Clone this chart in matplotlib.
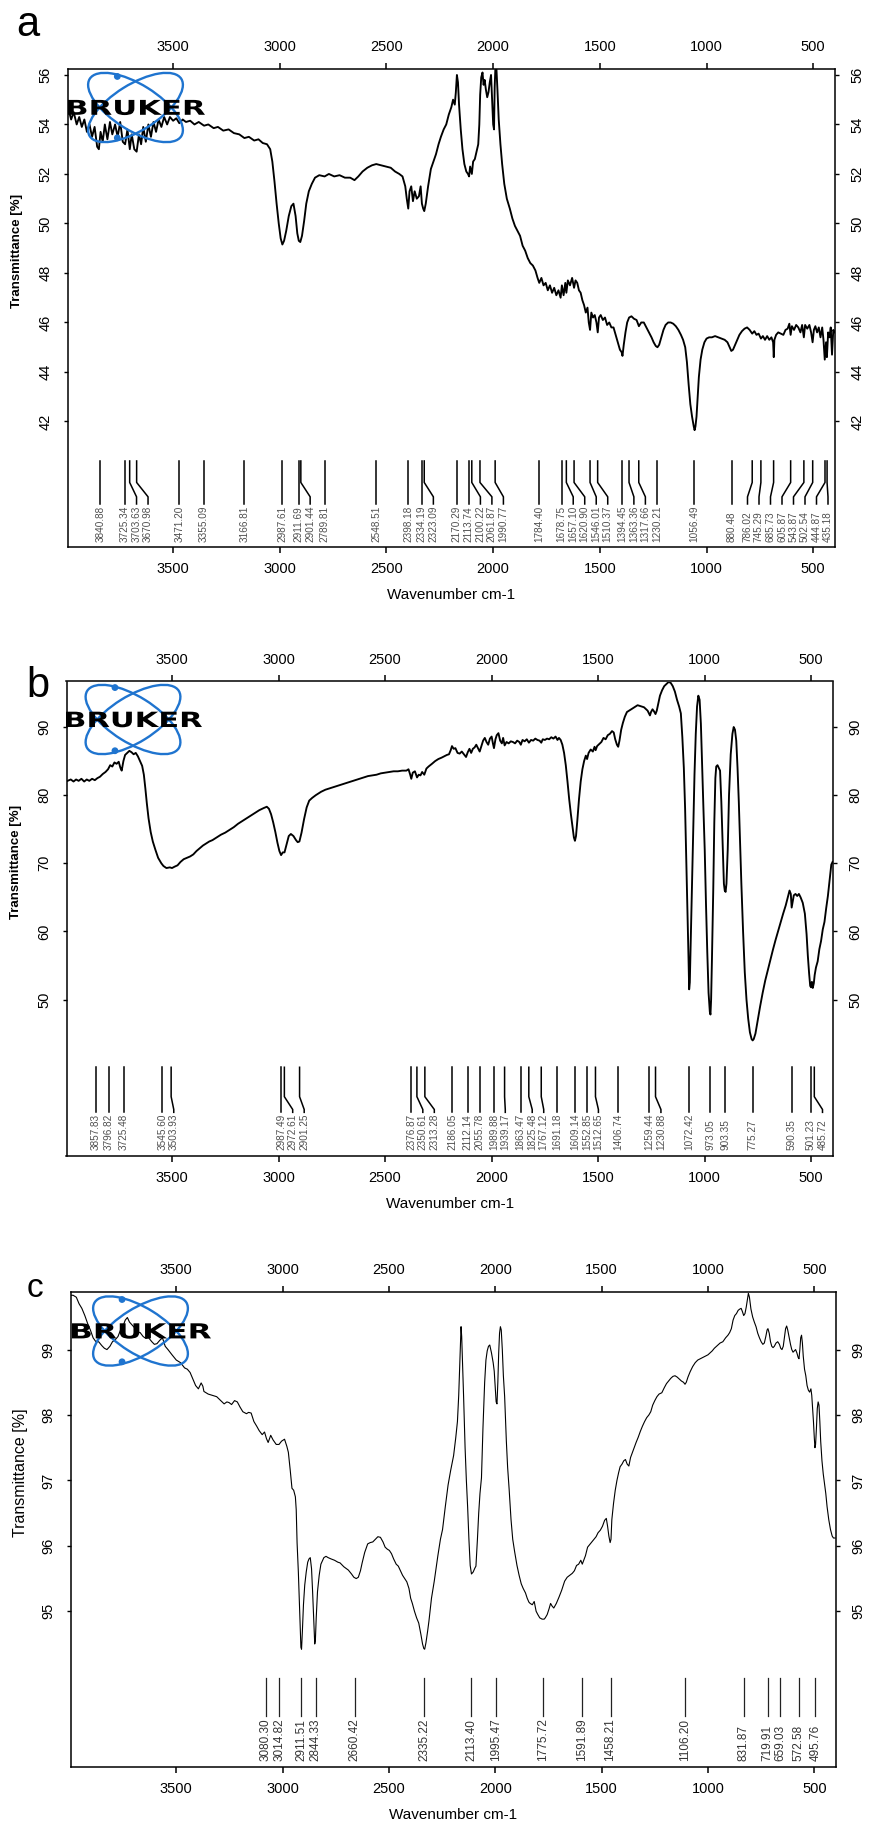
import matplotlib
matplotlib.use("Agg")
import matplotlib.pyplot as plt
import numpy as np
from matplotlib.patches import Ellipse, Circle, PathPatch
from matplotlib.textpath import TextPath
from matplotlib.font_manager import FontProperties
from matplotlib.transforms import Affine2D

plt.rcParams['font.family'] = ['Liberation Sans', 'DejaVu Sans']

# ---------------- data ----------------
x_ticks = [500, 1000, 1500, 2000, 2500, 3000, 3500]
yticks_a = [42, 44, 46, 48, 50, 52, 54, 56]
yticks_b = [50, 60, 70, 80, 90]
yticks_c = [95, 96, 97, 98, 99]

peaks_a = [3840.88, 3725.34, 3703.63, 3670.98, 3471.20, 3355.09, 3166.81, 2987.61,
           2911.69, 2901.44, 2789.81, 2548.51, 2398.18, 2334.19, 2323.09, 2170.29,
           2113.74, 2100.22, 2061.87, 1990.77, 1784.40, 1678.75, 1657.10, 1620.90,
           1546.01, 1510.37, 1394.45, 1363.36, 1317.66, 1230.21, 1056.49, 880.48,
           786.02, 745.29, 685.73, 605.87, 543.87, 502.54, 444.87, 435.18]
peaks_b = [3857.83, 3796.82, 3725.48, 3545.60, 3503.93, 2987.49, 2972.61, 2901.25,
           2376.87, 2350.61, 2313.28, 2186.05, 2112.14, 2055.78, 1989.88, 1939.17,
           1863.47, 1825.48, 1767.12, 1691.18, 1609.14, 1552.85, 1512.65, 1406.74,
           1259.44, 1230.88, 1072.42, 973.05, 903.35, 775.27, 590.35, 501.23, 485.72]
peaks_c = [3080.30, 3014.82, 2911.51, 2844.33, 2660.42, 2335.22, 2113.40, 1995.47,
           1775.72, 1591.89, 1458.21, 1106.20, 831.87, 719.91, 659.03, 572.58, 495.76]

spec_a = [
    (3990, 54.6), (3978, 54.2), (3966, 54.5), (3952, 54.0), (3940, 54.3), (3928, 53.9),
    (3916, 54.2), (3904, 53.7), (3892, 54.0), (3880, 53.5), (3868, 53.9), (3856, 53.1),
    (3848, 53.0), (3840, 53.7), (3830, 53.3), (3820, 54.0), (3808, 53.4), (3796, 54.1),
    (3785, 53.6), (3772, 54.0), (3760, 53.5), (3748, 54.1), (3736, 53.3), (3725, 53.2),
    (3714, 53.8), (3703, 53.0), (3694, 53.6), (3682, 53.0), (3671, 52.9), (3660, 53.6),
    (3650, 53.2), (3640, 53.9), (3628, 53.3), (3616, 54.0), (3604, 53.5), (3592, 54.1),
    (3580, 53.7), (3568, 54.2), (3555, 53.9), (3542, 54.3), (3528, 54.0), (3515, 54.3),
    (3500, 54.15), (3485, 54.25), (3471, 54.05), (3455, 54.2), (3440, 54.1), (3420, 54.15),
    (3400, 54.0), (3380, 54.1), (3355, 53.95), (3335, 54.0), (3310, 53.85), (3290, 53.9),
    (3265, 53.75), (3240, 53.8), (3215, 53.65), (3190, 53.6), (3166, 53.45), (3145, 53.5),
    (3120, 53.35), (3100, 53.4), (3080, 53.25), (3060, 53.2), (3045, 53.0), (3035, 52.5),
    (3025, 51.7), (3015, 50.8), (3005, 50.0), (2996, 49.4), (2988, 49.15), (2980, 49.3),
    (2970, 49.7), (2958, 50.3), (2946, 50.7), (2936, 50.8), (2926, 50.3), (2918, 49.6),
    (2911, 49.3), (2904, 49.25), (2896, 49.5), (2886, 50.1), (2876, 50.8), (2864, 51.3),
    (2850, 51.6), (2835, 51.85), (2815, 51.95), (2790, 51.9), (2770, 52.0), (2745, 51.9),
    (2720, 51.95), (2695, 51.85), (2670, 51.85), (2650, 51.75), (2632, 51.9), (2612, 52.1),
    (2590, 52.25), (2568, 52.35), (2548, 52.4), (2525, 52.35), (2500, 52.3), (2480, 52.25),
    (2460, 52.1), (2440, 52.0), (2425, 51.9), (2412, 51.5), (2405, 51.0), (2398, 50.6),
    (2392, 51.3), (2384, 51.5), (2376, 50.9), (2368, 51.3), (2358, 51.0), (2348, 51.1),
    (2340, 51.5), (2334, 50.8), (2328, 50.6), (2323, 50.5), (2316, 50.8), (2305, 51.5),
    (2292, 52.2), (2280, 52.5), (2268, 52.8), (2256, 53.2), (2245, 53.5), (2232, 53.8),
    (2220, 54.0), (2208, 54.4), (2196, 54.7), (2188, 55.0), (2180, 54.8), (2175, 55.3),
    (2170, 56.0), (2165, 55.7), (2160, 54.8), (2152, 53.8), (2144, 53.0), (2135, 52.4),
    (2126, 52.1), (2118, 52.0), (2113, 51.9), (2108, 52.3), (2100, 52.0), (2094, 52.5),
    (2086, 52.6), (2078, 52.9), (2070, 53.2), (2065, 54.0), (2061, 55.2), (2056, 55.9),
    (2050, 56.1), (2045, 55.6), (2040, 55.8), (2034, 55.4), (2028, 55.1), (2022, 55.3),
    (2016, 55.7), (2010, 56.0), (2005, 55.0), (2000, 54.0), (1996, 53.8), (1993, 55.5),
    (1990, 56.2), (1985, 56.3), (1980, 55.4), (1974, 54.2), (1966, 53.2), (1958, 52.4),
    (1948, 51.6), (1936, 51.0), (1922, 50.6), (1910, 50.2), (1898, 49.9), (1886, 49.7),
    (1874, 49.5), (1862, 49.1), (1850, 48.9), (1838, 48.6), (1826, 48.4), (1814, 48.3),
    (1802, 48.1), (1792, 47.8), (1784, 47.6), (1774, 47.8), (1764, 47.5), (1754, 47.6),
    (1744, 47.3), (1734, 47.5), (1724, 47.2), (1714, 47.4), (1704, 47.1), (1694, 47.3),
    (1684, 47.0), (1678, 47.5), (1670, 47.1), (1662, 47.6), (1657, 47.2), (1650, 47.7),
    (1640, 47.5), (1630, 47.8), (1621, 47.4), (1614, 47.7), (1606, 47.6), (1598, 47.3),
    (1590, 47.2), (1582, 46.9), (1574, 46.7), (1566, 46.4), (1558, 46.6), (1552, 46.0),
    (1546, 45.7), (1540, 46.4), (1532, 46.2), (1524, 46.3), (1516, 46.0), (1510, 45.6),
    (1504, 46.2), (1496, 46.3), (1486, 46.1), (1476, 46.2), (1466, 45.9), (1456, 46.0),
    (1446, 45.8), (1436, 45.8), (1426, 45.5), (1416, 45.2), (1406, 44.9), (1398, 44.8),
    (1394, 44.65), (1388, 45.1), (1380, 45.6), (1372, 46.0), (1363, 46.2), (1352, 46.25),
    (1340, 46.15), (1328, 46.1), (1317, 45.85), (1306, 46.0), (1294, 46.0), (1282, 45.8),
    (1270, 45.6), (1258, 45.4), (1248, 45.2), (1238, 45.05), (1230, 45.0), (1222, 45.1),
    (1212, 45.4), (1202, 45.7), (1192, 45.9), (1180, 46.0), (1168, 46.0), (1156, 45.95),
    (1144, 45.85), (1132, 45.7), (1120, 45.5), (1110, 45.3), (1100, 45.0), (1092, 44.4),
    (1084, 43.5), (1076, 42.7), (1068, 42.2), (1060, 41.8), (1056, 41.65), (1052, 41.8),
    (1047, 42.2), (1042, 42.9), (1036, 43.8), (1028, 44.5), (1020, 44.9), (1010, 45.2),
    (1000, 45.35), (988, 45.4), (975, 45.4), (960, 45.45), (945, 45.4), (930, 45.35),
    (915, 45.3), (902, 45.2), (892, 45.0), (884, 44.85), (876, 44.9), (866, 45.1),
    (856, 45.3), (846, 45.5), (834, 45.65), (822, 45.75), (810, 45.8), (798, 45.7),
    (786, 45.55), (776, 45.65), (766, 45.5), (756, 45.55), (745, 45.35), (736, 45.45),
    (726, 45.3), (716, 45.45), (706, 45.3), (696, 45.4), (688, 45.2), (685, 44.6),
    (682, 45.3), (674, 45.5), (664, 45.6), (652, 45.55), (640, 45.5), (630, 45.7),
    (620, 45.75), (612, 45.95), (606, 45.5), (600, 45.85), (590, 45.7), (580, 45.9),
    (570, 45.8), (560, 45.6), (552, 45.9), (544, 45.4), (538, 45.9), (528, 45.75),
    (518, 45.9), (510, 45.6), (503, 45.2), (497, 45.7), (490, 45.85), (482, 45.6),
    (474, 45.8), (466, 45.4), (458, 45.8), (452, 45.3), (446, 44.5), (440, 45.2),
    (436, 44.6), (430, 45.6), (424, 45.4), (418, 45.8), (412, 44.7), (406, 45.7),
    (400, 45.6)]

spec_b = [
    (3990, 82.1), (3975, 82.3), (3962, 82.0), (3950, 82.3), (3938, 82.1), (3925, 82.4),
    (3912, 82.0), (3900, 82.3), (3888, 82.1), (3875, 82.4), (3862, 82.2), (3850, 82.5),
    (3838, 82.7), (3825, 83.1), (3812, 83.4), (3800, 83.8), (3790, 84.4), (3780, 84.2),
    (3770, 84.8), (3760, 84.6), (3750, 84.9), (3742, 84.0), (3736, 83.6), (3728, 85.0),
    (3720, 85.9), (3710, 86.2), (3700, 86.5), (3690, 86.3), (3680, 86.0), (3670, 86.2),
    (3660, 85.7), (3650, 85.0), (3640, 84.3), (3632, 83.0), (3625, 81.0), (3618, 78.8),
    (3610, 76.6), (3600, 74.6), (3590, 73.2), (3578, 72.0), (3565, 70.8), (3550, 70.0),
    (3540, 69.6), (3526, 69.3), (3510, 69.4), (3500, 69.3), (3488, 69.5), (3474, 69.7),
    (3460, 70.2), (3445, 70.6), (3430, 70.8), (3415, 71.0), (3400, 71.3), (3385, 71.8),
    (3370, 72.2), (3355, 72.6), (3340, 72.9), (3325, 73.2), (3310, 73.4), (3290, 73.8),
    (3270, 74.2), (3250, 74.5), (3230, 74.9), (3210, 75.3), (3190, 75.8), (3170, 76.2),
    (3150, 76.6), (3130, 77.0), (3110, 77.4), (3090, 77.8), (3070, 78.1), (3055, 78.3),
    (3045, 78.0), (3035, 77.2), (3025, 76.0), (3015, 74.6), (3005, 73.0), (2996, 71.8),
    (2988, 71.2), (2980, 71.6), (2972, 71.6), (2962, 72.8), (2952, 74.0), (2942, 74.3),
    (2930, 74.0), (2918, 73.4), (2910, 73.1), (2902, 73.2), (2892, 74.5), (2880, 76.5),
    (2868, 78.2), (2856, 79.2), (2842, 79.6), (2825, 80.0), (2800, 80.5), (2780, 80.8),
    (2760, 81.0), (2740, 81.2), (2720, 81.4), (2700, 81.6), (2680, 81.8), (2660, 82.0),
    (2640, 82.2), (2620, 82.4), (2600, 82.6), (2580, 82.8), (2560, 82.9), (2540, 83.0),
    (2520, 83.2), (2500, 83.3), (2480, 83.4), (2460, 83.5), (2440, 83.5), (2420, 83.6),
    (2400, 83.6), (2390, 83.8), (2382, 83.0), (2377, 82.4), (2370, 83.3), (2360, 83.5),
    (2350, 82.6), (2342, 83.0), (2334, 82.9), (2326, 83.4), (2316, 83.0), (2306, 83.9),
    (2296, 84.2), (2280, 84.6), (2265, 85.0), (2250, 85.3), (2235, 85.5), (2222, 85.7),
    (2210, 85.9), (2200, 86.0), (2192, 86.6), (2186, 87.2), (2178, 86.8), (2170, 86.9),
    (2160, 86.2), (2150, 86.1), (2140, 86.4), (2130, 86.0), (2120, 85.6), (2112, 86.3),
    (2104, 86.8), (2096, 86.2), (2088, 86.8), (2080, 87.0), (2072, 87.4), (2064, 86.9),
    (2056, 86.4), (2048, 87.2), (2040, 88.0), (2032, 88.4), (2024, 87.8), (2016, 87.4),
    (2008, 88.3), (2000, 88.6), (1994, 87.6), (1989, 86.9), (1982, 88.2), (1976, 88.8),
    (1968, 89.1), (1960, 88.0), (1952, 87.6), (1946, 88.4), (1939, 87.3), (1930, 87.8),
    (1920, 87.6), (1910, 87.9), (1900, 87.8), (1890, 87.6), (1880, 88.0), (1870, 87.8),
    (1863, 87.4), (1855, 88.1), (1845, 87.9), (1835, 88.2), (1825, 87.7), (1815, 88.1),
    (1805, 88.0), (1795, 88.3), (1785, 88.1), (1775, 88.0), (1767, 87.7), (1760, 88.2),
    (1750, 88.1), (1740, 88.3), (1730, 88.2), (1720, 88.5), (1710, 88.3), (1700, 88.6),
    (1691, 88.1), (1684, 88.4), (1676, 88.1), (1668, 87.4), (1660, 86.2), (1652, 84.4),
    (1644, 82.0), (1636, 79.4), (1628, 77.2), (1620, 75.2), (1614, 73.8), (1609, 73.3),
    (1604, 74.0), (1598, 76.2), (1590, 79.4), (1582, 82.0), (1574, 83.8), (1566, 85.0),
    (1558, 85.8), (1552, 85.3), (1545, 86.2), (1535, 86.7), (1525, 86.4), (1517, 87.1),
    (1512, 86.6), (1505, 87.2), (1495, 87.5), (1485, 87.8), (1475, 88.4), (1465, 88.2),
    (1455, 88.8), (1445, 89.0), (1435, 89.4), (1427, 89.2), (1420, 88.2), (1412, 87.4),
    (1406, 87.1), (1400, 88.0), (1392, 89.6), (1384, 90.6), (1375, 91.5), (1365, 92.2),
    (1355, 92.4), (1345, 92.6), (1335, 92.8), (1325, 93.0), (1315, 93.2), (1305, 93.1),
    (1295, 93.0), (1285, 92.9), (1275, 92.6), (1268, 92.4), (1262, 92.0), (1257, 91.7),
    (1252, 92.2), (1245, 92.6), (1238, 92.3), (1231, 91.9), (1225, 92.4), (1218, 93.4),
    (1210, 94.6), (1200, 95.4), (1190, 96.0), (1180, 96.3), (1170, 96.6), (1160, 96.5),
    (1150, 96.0), (1140, 95.2), (1130, 94.0), (1120, 93.0), (1112, 92.0), (1105, 88.5),
    (1098, 84.0), (1092, 78.0), (1086, 70.0), (1080, 62.0), (1076, 56.0), (1073, 51.5),
    (1070, 52.5), (1066, 58.0), (1060, 66.0), (1054, 75.0), (1048, 83.0), (1042, 89.0),
    (1036, 93.0), (1030, 94.6), (1024, 94.0), (1018, 90.5), (1012, 84.0), (1006, 78.0),
    (1000, 72.0), (994, 64.0), (988, 57.0), (982, 51.0), (976, 48.2), (973, 47.8),
    (970, 50.0), (966, 56.0), (960, 66.0), (955, 76.0), (950, 82.5), (946, 84.2),
    (940, 84.4), (934, 84.0), (928, 83.6), (922, 79.0), (916, 73.0), (910, 67.0),
    (906, 66.0), (902, 65.8), (898, 67.0), (892, 72.0), (886, 80.0), (878, 86.0),
    (870, 89.0), (864, 90.0), (858, 89.6), (852, 88.0), (846, 84.0), (840, 79.0),
    (834, 73.0), (828, 67.0), (820, 60.0), (812, 54.0), (804, 50.0), (796, 47.2),
    (788, 45.2), (780, 44.2), (775, 44.0), (770, 44.2), (762, 45.0), (752, 46.8),
    (740, 49.0), (728, 51.0), (716, 52.8), (704, 54.3), (692, 55.8), (680, 57.3),
    (668, 58.7), (656, 60.0), (644, 61.3), (632, 62.6), (620, 63.8), (610, 65.0),
    (602, 66.0), (596, 65.5), (592, 63.5), (588, 64.2), (582, 65.3), (574, 65.5),
    (566, 65.2), (558, 65.5), (550, 65.0), (540, 64.2), (530, 62.6), (522, 59.6),
    (516, 56.4), (510, 53.8), (505, 52.0), (501, 51.8), (497, 52.6), (493, 51.7),
    (488, 52.4), (484, 53.6), (478, 54.7), (470, 55.6), (462, 57.4), (454, 58.6),
    (446, 60.3), (438, 61.4), (430, 63.4), (422, 65.2), (414, 67.5), (406, 69.8),
    (400, 70.2)]

spec_c = [
    (4000, 99.83), (3985, 99.83), (3970, 99.80), (3957, 99.70), (3944, 99.63), (3930, 99.52),
    (3917, 99.40), (3904, 99.30), (3891, 99.18), (3878, 99.12), (3865, 99.12), (3850, 99.06),
    (3838, 99.02), (3826, 99.00), (3812, 99.05), (3800, 99.12), (3787, 99.15), (3774, 99.20),
    (3762, 99.30), (3748, 99.38), (3740, 99.45), (3730, 99.49), (3720, 99.42), (3709, 99.38),
    (3695, 99.33), (3683, 99.27), (3670, 99.26), (3656, 99.20), (3643, 99.17), (3630, 99.18),
    (3615, 99.12), (3603, 99.08), (3591, 99.09), (3578, 99.14), (3565, 99.18), (3552, 99.05),
    (3539, 99.00), (3520, 98.92), (3500, 98.84), (3480, 98.80), (3461, 98.72), (3448, 98.70),
    (3435, 98.65), (3422, 98.55), (3409, 98.45), (3396, 98.40), (3383, 98.49), (3375, 98.44),
    (3370, 98.36), (3350, 98.32), (3330, 98.30), (3310, 98.28), (3291, 98.22), (3275, 98.17),
    (3262, 98.20), (3252, 98.19), (3240, 98.16), (3226, 98.22), (3213, 98.20), (3200, 98.12),
    (3187, 98.05), (3170, 98.02), (3160, 98.04), (3148, 98.03), (3135, 97.90), (3122, 97.83),
    (3110, 97.76), (3096, 97.70), (3085, 97.74), (3076, 97.64), (3068, 97.58), (3056, 97.69),
    (3045, 97.62), (3030, 97.55), (3017, 97.55), (3005, 97.60), (2991, 97.63), (2980, 97.52),
    (2973, 97.43), (2964, 97.15), (2956, 96.88), (2948, 96.85), (2940, 96.75), (2936, 96.55),
    (2932, 96.05), (2926, 95.6), (2921, 95.1), (2918, 94.8), (2914, 94.45), (2911, 94.42),
    (2907, 94.7), (2902, 95.1), (2896, 95.4), (2889, 95.6), (2882, 95.75), (2876, 95.8),
    (2870, 95.82), (2864, 95.65), (2859, 95.3), (2854, 94.9), (2849, 94.5), (2846, 94.55),
    (2842, 94.9), (2836, 95.3), (2828, 95.55), (2820, 95.72), (2806, 95.82), (2796, 95.84),
    (2786, 95.82), (2772, 95.8), (2756, 95.78), (2740, 95.75), (2730, 95.74), (2712, 95.68),
    (2691, 95.63), (2676, 95.57), (2665, 95.52), (2654, 95.5), (2644, 95.52), (2634, 95.62),
    (2626, 95.74), (2614, 95.9), (2600, 96.03), (2588, 96.05), (2576, 96.06), (2564, 96.1),
    (2552, 96.14), (2540, 96.13), (2528, 96.06), (2518, 95.98), (2508, 95.95), (2498, 95.93),
    (2488, 95.88), (2478, 95.8), (2466, 95.72), (2456, 95.69), (2446, 95.62), (2436, 95.55),
    (2426, 95.5), (2416, 95.45), (2406, 95.35), (2398, 95.2), (2390, 95.12), (2380, 95.0),
    (2370, 94.9), (2360, 94.82), (2350, 94.65), (2342, 94.5), (2336, 94.43), (2332, 94.42),
    (2326, 94.52), (2318, 94.7), (2312, 94.85), (2300, 95.2), (2287, 95.46), (2270, 95.85),
    (2258, 96.1), (2248, 96.25), (2235, 96.6), (2222, 96.93), (2210, 97.15), (2196, 97.38),
    (2186, 97.65), (2178, 97.9), (2172, 98.3), (2167, 98.8), (2163, 99.2), (2161, 99.35),
    (2158, 99.2), (2154, 98.8), (2149, 98.28), (2142, 97.5), (2136, 97.0), (2130, 96.59),
    (2124, 96.1), (2118, 95.7), (2112, 95.57), (2104, 95.6), (2096, 95.66), (2091, 95.69),
    (2084, 96.1), (2078, 96.5), (2072, 96.8), (2065, 97.04), (2058, 97.8), (2050, 98.5),
    (2044, 98.84), (2038, 98.98), (2032, 99.05), (2026, 99.07), (2018, 98.95), (2010, 98.8),
    (2005, 98.67), (2000, 98.4), (1996, 98.2), (1992, 98.17), (1988, 98.5), (1984, 98.95),
    (1980, 99.25), (1976, 99.35), (1972, 99.3), (1967, 99.0), (1962, 98.6), (1956, 98.28),
    (1948, 97.6), (1942, 97.2), (1935, 96.87), (1926, 96.4), (1918, 96.1), (1909, 95.91),
    (1898, 95.7), (1888, 95.55), (1878, 95.42), (1869, 95.35), (1858, 95.28), (1850, 95.2),
    (1842, 95.14), (1836, 95.12), (1826, 95.1), (1817, 95.15), (1808, 95.0), (1800, 94.95),
    (1791, 94.9), (1780, 94.88), (1770, 94.88), (1765, 94.9), (1756, 94.95), (1747, 95.04),
    (1740, 95.12), (1733, 95.08), (1725, 95.05), (1713, 95.12), (1700, 95.22), (1688, 95.32),
    (1674, 95.46), (1662, 95.52), (1650, 95.55), (1638, 95.58), (1628, 95.62), (1618, 95.7),
    (1608, 95.72), (1598, 95.78), (1591, 95.72), (1584, 95.78), (1576, 95.85), (1566, 95.98),
    (1556, 96.02), (1546, 96.06), (1536, 96.1), (1526, 96.14), (1517, 96.2), (1506, 96.24),
    (1496, 96.3), (1486, 96.39), (1478, 96.42), (1472, 96.3), (1466, 96.15), (1460, 96.05),
    (1456, 96.1), (1452, 96.4), (1444, 96.65), (1436, 96.85), (1428, 97.0), (1420, 97.12),
    (1413, 97.21), (1404, 97.25), (1396, 97.3), (1388, 97.32), (1380, 97.25), (1372, 97.22),
    (1364, 97.35), (1356, 97.42), (1348, 97.49), (1338, 97.58), (1328, 97.66), (1318, 97.75),
    (1308, 97.83), (1298, 97.9), (1288, 97.96), (1278, 98.0), (1269, 98.05), (1260, 98.15),
    (1250, 98.22), (1240, 98.28), (1230, 98.32), (1217, 98.34), (1205, 98.42), (1195, 98.48),
    (1185, 98.52), (1175, 98.56), (1165, 98.59), (1155, 98.6), (1145, 98.58), (1135, 98.55),
    (1125, 98.52), (1115, 98.5), (1108, 98.47), (1102, 98.5), (1094, 98.58), (1084, 98.66),
    (1072, 98.74), (1060, 98.8), (1048, 98.84), (1036, 98.86), (1024, 98.88), (1012, 98.9),
    (1000, 98.92), (990, 98.95), (980, 98.98), (970, 99.02), (960, 99.05), (950, 99.08),
    (943, 99.1), (930, 99.12), (917, 99.18), (906, 99.22), (898, 99.26), (890, 99.32),
    (882, 99.45), (874, 99.52), (866, 99.55), (858, 99.6), (850, 99.62), (844, 99.63),
    (838, 99.58), (832, 99.52), (826, 99.55), (820, 99.65), (815, 99.75), (810, 99.86),
    (805, 99.8), (798, 99.62), (790, 99.5), (782, 99.42), (774, 99.35), (766, 99.25),
    (758, 99.18), (750, 99.12), (742, 99.08), (735, 99.1), (728, 99.2), (722, 99.3),
    (718, 99.32), (712, 99.25), (706, 99.12), (700, 99.05), (694, 99.03), (688, 99.05),
    (680, 99.1), (672, 99.12), (664, 99.08), (658, 99.02), (652, 99.0), (646, 99.05),
    (640, 99.2), (635, 99.32), (630, 99.36), (625, 99.3), (618, 99.18), (612, 99.08),
    (606, 99.0), (600, 98.96), (594, 98.98), (588, 99.0), (582, 98.95), (576, 98.88),
    (572, 98.86), (568, 99.0), (564, 99.18), (560, 99.22), (556, 99.1), (552, 98.9),
    (546, 98.7), (540, 98.6), (534, 98.45), (528, 98.38), (522, 98.35), (516, 98.4),
    (512, 98.3), (508, 98.1), (504, 97.9), (500, 97.65), (497, 97.5), (494, 97.55),
    (490, 97.8), (486, 98.1), (482, 98.2), (478, 98.15), (474, 97.9), (470, 97.6),
    (464, 97.3), (458, 97.1), (452, 96.95), (446, 96.8), (440, 96.6), (432, 96.4),
    (424, 96.25), (416, 96.15), (410, 96.12), (402, 96.12)]

# ---------------- layout ----------------
W, H = 869, 1827
XMAX, XMIN = 3995, 398
fig = plt.figure(figsize=(W / 100, H / 100), dpi=100)
fig.patch.set_facecolor('white')


def add_logo(box):
    l, t, r, b = box
    lax = fig.add_axes([l / W, 1 - b / H, (r - l) / W, (b - t) / H], zorder=10)
    w, h = r - l, b - t
    lax.set_xlim(0, w)
    lax.set_ylim(0, h)
    lax.axis('off')
    lax.patch.set_alpha(0)
    blue = '#1f74cf'
    cx = w * 0.5 - 1
    for ang in (32, -32):
        lax.add_patch(Ellipse((cx, h * 0.5), 108, 46, angle=ang,
                              fill=False, ec=blue, lw=1.7, clip_on=False))
    for (px, py) in [(w * 0.36, h * 0.95), (w * 0.36, h * 0.06)]:
        lax.add_patch(Circle((px, py), 2.7, color=blue, clip_on=False))
    tp = TextPath((0, 0), "BRUKER", size=10,
                  prop=FontProperties(family='DejaVu Sans', weight='bold'))
    ext = tp.get_extents()
    sx = w / ext.width
    sy = (h * 0.22) / ext.height
    tr = Affine2D().translate(-ext.x0, -ext.y0).scale(sx, sy).translate(0, h * 0.39)
    lax.add_patch(PathPatch(tr.transform_path(tp), color='black', lw=0))


def draw_panel(box, spec, peaks, ylim, yticks, letter, letter_pos, letter_fs,
               logo_box, style):
    l, t, r, b = box
    bw, bh = r - l, b - t
    ax = fig.add_axes([l / W, 1 - b / H, bw / W, bh / H])
    xs = [p[0] for p in spec]
    ys = [p[1] for p in spec]
    ax.plot(xs, ys, color='black', lw=style['lw'])
    ax.set_xlim(XMAX, XMIN)
    ax.set_ylim(*ylim)
    ax.set_xticks(x_ticks)
    ax.set_yticks(yticks)
    for sp in ax.spines.values():
        sp.set_linewidth(1.1)
    ax.tick_params(axis='x', top=True, bottom=True, labeltop=True, labelbottom=True,
                   direction='out', length=4.5, width=1.1, pad=6, labelsize=10.5)
    ax.tick_params(axis='y', left=True, right=True, labelleft=True, labelright=True,
                   direction='out', length=3, width=1.0, pad=8, labelsize=10.5,
                   labelrotation=90)
    for lab in ax.get_yticklabels():
        lab.set_va('center')
    ax.set_xlabel('Wavenumber cm-1', fontsize=11, va='center')
    ax.xaxis.set_label_coords(0.5, -48 / bh)
    ax.set_ylabel('Transmittance [%]', fontsize=style['ylfs'],
                  fontweight=style['ylw'], va='center', ha='center')
    ax.yaxis.set_label_coords(-50 / bw, 0.62)

    # peak markers
    pxu = bw / (XMAX - XMIN)
    pos = [(XMAX - p) * pxu for p in peaks]
    idx = list(np.argsort(pos))
    ps = [pos[i] for i in idx]
    tp = list(ps)
    gap = style['gap']
    for i in range(1, len(tp)):
        tp[i] = max(tp[i], tp[i - 1] + gap)
    rb = bw - 7
    tp[-1] = min(tp[-1], rb)
    for i in range(len(tp) - 2, -1, -1):
        tp[i] = min(tp[i], tp[i + 1] - gap)
    trans = ax.get_xaxis_transform()
    f_top, f_b1, f_b2, f_end, f_txt = style['fr']
    for k, i in enumerate(idx):
        xp = peaks[i]
        xt = XMAX - tp[k] / pxu
        if abs(tp[k] - ps[k]) < 0.6:
            ax.plot([xp, xp], [f_top, f_end], transform=trans, color=style['lc'],
                    lw=style['llw'])
        else:
            ax.plot([xp, xp, xt, xt], [f_top, f_b1, f_b2, f_end], transform=trans,
                    color=style['lc'], lw=style['llw'])
        ax.text(xt, f_txt, '%.2f' % xp, rotation=90, ha='center', va='bottom',
                transform=trans, fontsize=style['pfs'], color=style['pc'])

    fig.text(letter_pos[0] / W, 1 - letter_pos[1] / H, letter, fontsize=letter_fs,
             ha='left', va='baseline')
    add_logo(logo_box)
    return ax


style_ab = dict(lw=1.35, ylfs=9.5, ylw='bold', gap=11.5, lc='black', llw=1.1,
                pfs=7.2, pc='#505050', fr=(0.18, 0.135, 0.105, 0.09, 0.011))
style_c = dict(lw=0.8, ylfs=11.5, ylw='normal', gap=12, lc='#222222', llw=0.9,
               pfs=8.5, pc='#333333', fr=(0.188, 0.15, 0.12, 0.107, 0.0126))

draw_panel((67.5, 69, 835, 547), spec_a, peaks_a, (36.93, 56.24), yticks_a,
           'a', (16, 36), 30, (68, 73, 205, 142), style_ab)
draw_panel((66.5, 681.5, 833, 1156), spec_b, peaks_b, (27.04, 96.68), yticks_b,
           'b', (26, 697), 30, (66, 684, 202, 755),
           dict(style_ab, fr=(0.187, 0.125, 0.098, 0.092, 0.0126)))
draw_panel((71, 1292, 836, 1767), spec_c, peaks_c, (92.62, 99.88), yticks_c,
           'c', (27, 1297), 24, (72, 1296, 211, 1366), style_c)

fig.savefig('out.png', dpi=100, facecolor='white')
